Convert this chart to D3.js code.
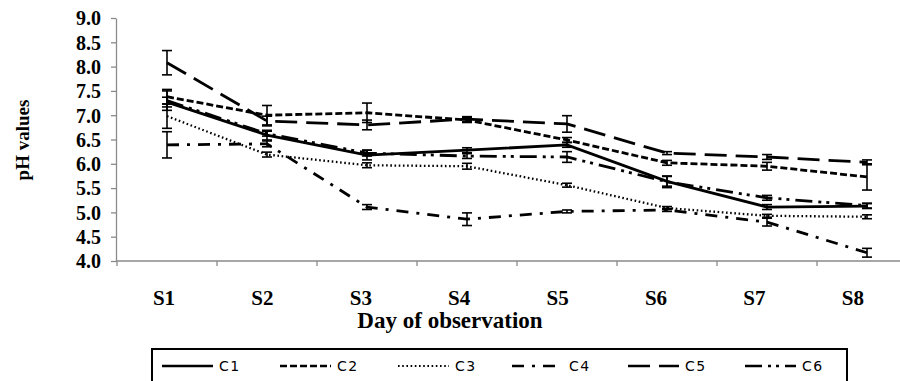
<!DOCTYPE html>
<html>
<head>
<meta charset="utf-8">
<script src="https://cdn.jsdelivr.net/npm/d3@7"></script>
<style>
  body { margin: 0; background: #fff; }
  svg { display: block; }
</style>
</head>
<body>
<svg id="chart" width="900" height="381"></svg>
<script>
// days on the x axis
var days = ["S1", "S2", "S3", "S4", "S5", "S6", "S7", "S8"];
var yTicks = [4.0, 4.5, 5.0, 5.5, 6.0, 6.5, 7.0, 7.5, 8.0, 8.5, 9.0];

// mean pH per treatment
var c1 = [7.27, 6.59, 6.18, 6.28, 6.39, 5.64, 5.11, 5.13];
var c2 = [7.38, 7.00, 7.05, 6.90, 6.49, 6.02, 5.95, 5.73];
var c3 = [6.98, 6.19, 5.97, 5.95, 5.56, 5.09, 4.93, 4.91];
var c4 = [6.39, 6.41, 5.11, 4.86, 5.02, 5.05, 4.80, 4.17];
var c5 = [8.08, 6.88, 6.80, 6.92, 6.82, 6.22, 6.14, 6.03];
var c6 = [7.30, 6.62, 6.22, 6.16, 6.14, 5.63, 5.30, 5.14];

// error bar half widths
var e1 = [0.10, 0.10, 0.10, 0.05, 0.05, 0.10, 0.05, 0.05];
var e2 = [0.15, 0.20, 0.20, 0.05, 0.05, 0.05, 0.08, 0.27];
var e3 = [0.25, 0.05, 0.05, 0.06, 0.04, 0.03, 0.03, 0.04];
var e4 = [0.27, 0.06, 0.05, 0.13, 0.03, 0.03, 0.08, 0.09];
var e5 = [0.25, 0.10, 0.10, 0.05, 0.17, 0.03, 0.05, 0.05];
var e6 = [0.20, 0.05, 0.06, 0.05, 0.11, 0.12, 0.05, 0.05];

var names = ["C1", "C2", "C3", "C4", "C5", "C6"];
var dashes = ["none", "7,3", "1.6,2.6", "12,8,3,8", "22,9", "17,6,3,5,3,6"];

var series = names.map((n, i) => ({
    name: n,
    values: [c1, c2, c3, c4, c5, c6][i],
    errors: [e1, e2, e3, e4, e5, e6][i],
    dash: dashes[i]
}));

var svg = d3.select("#chart");

var x = d3.scaleBand().domain(days).range([117, 917]);
var y = d3.scaleLinear().domain([4, 9]).range([261, 18]);
var cx = d => x(d) + x.bandwidth() / 2;

var serif = "'Liberation Serif', 'Times New Roman', serif";

// y axis
var yAxis = svg.append("g")
    .attr("transform", "translate(116,0)")
    .call(d3.axisLeft(y).tickValues(yTicks).tickFormat(d3.format(".1f")).tickSize(5).tickSizeOuter(0));
yAxis.select(".domain").attr("stroke", "#8a8a8a").attr("stroke-width", 1.3);
yAxis.selectAll(".tick line").attr("stroke", "#8a8a8a").attr("stroke-width", 1.3);
yAxis.selectAll(".tick text")
    .attr("x", -15)
    .attr("dy", "0.34em")
    .attr("fill", "#000")
    .attr("font-family", serif)
    .attr("font-weight", "bold")
    .attr("font-size", 20);

// x axis: line plus ticks on category boundaries
var xAxis = svg.append("g");
xAxis.append("line")
    .attr("x1", 116).attr("x2", 917)
    .attr("y1", y(4)).attr("y2", y(4))
    .attr("stroke", "#8a8a8a").attr("stroke-width", 1.3);
xAxis.selectAll("line.tk")
    .data(days)
    .join("line")
    .attr("class", "tk")
    .attr("x1", d => x(d)).attr("x2", d => x(d))
    .attr("y1", y(4)).attr("y2", y(4) + 5)
    .attr("stroke", "#8a8a8a").attr("stroke-width", 1.3);
xAxis.selectAll("text")
    .data(days)
    .join("text")
    .attr("x", d => cx(d) - 3 - days.indexOf(d) * 1.6)
    .attr("y", 305)
    .attr("text-anchor", "middle")
    .attr("font-family", serif)
    .attr("font-weight", "bold")
    .attr("font-size", 21)
    .text(d => d);

// axis titles
svg.append("text")
    .attr("x", 450).attr("y", 328)
    .attr("text-anchor", "middle")
    .attr("font-family", serif)
    .attr("font-weight", "bold")
    .attr("font-size", 23)
    .text("Day of observation");

svg.append("text")
    .attr("transform", "translate(29,140) rotate(-90)")
    .attr("text-anchor", "middle")
    .attr("font-family", serif)
    .attr("font-weight", "bold")
    .attr("font-size", 19)
    .text("pH values");

// lines
var line = d3.line()
    .x((d, i) => cx(days[i]))
    .y(d => y(d));

var plot = svg.append("g");
plot.selectAll("path.series")
    .data(series)
    .join("path")
    .attr("class", "series")
    .attr("d", s => line(s.values))
    .attr("fill", "none")
    .attr("stroke", "#000")
    .attr("stroke-width", s => s.name == "C3" ? 2.3 : 2.8)
    .attr("stroke-dasharray", s => s.dash);

// error bars
var bars = [];
series.forEach(s => s.values.forEach((v, i) => bars.push({ day: days[i], v: v, e: s.errors[i] })));
var eb = plot.append("g").attr("stroke", "#000").attr("stroke-width", 1.6);
eb.selectAll("line.v")
    .data(bars)
    .join("line")
    .attr("class", "v")
    .attr("x1", d => cx(d.day)).attr("x2", d => cx(d.day))
    .attr("y1", d => y(d.v + d.e)).attr("y2", d => y(d.v - d.e));
["top", "bot"].forEach(k => {
    eb.selectAll("line." + k)
        .data(bars)
        .join("line")
        .attr("class", k)
        .attr("x1", d => cx(d.day) - 5).attr("x2", d => cx(d.day) + 5)
        .attr("y1", d => y(k == "top" ? d.v + d.e : d.v - d.e))
        .attr("y2", d => y(k == "top" ? d.v + d.e : d.v - d.e));
});

// legend
var legend = svg.append("g");
legend.append("rect")
    .attr("x", 152).attr("y", 349)
    .attr("width", 695).attr("height", 42)
    .attr("fill", "none")
    .attr("stroke", "#000")
    .attr("stroke-width", 2);

var legendX = [162, 280, 398, 512, 628, 745];
var item = legend.selectAll("g.item")
    .data(series)
    .join("g")
    .attr("class", "item")
    .attr("transform", (d, i) => `translate(${legendX[i]},366)`);
item.append("line")
    .attr("x1", 0).attr("x2", 51)
    .attr("stroke", "#000")
    .attr("stroke-width", d => d.name == "C3" ? 2 : 2.4)
    .attr("stroke-dasharray", d => d.dash);
item.append("text")
    .attr("x", 57).attr("y", 5)
    .attr("font-family", "'DejaVu Sans', sans-serif")
    .attr("font-size", 14)
    .attr("letter-spacing", 1.5)
    .text(d => d.name);
</script>
</body>
</html>
